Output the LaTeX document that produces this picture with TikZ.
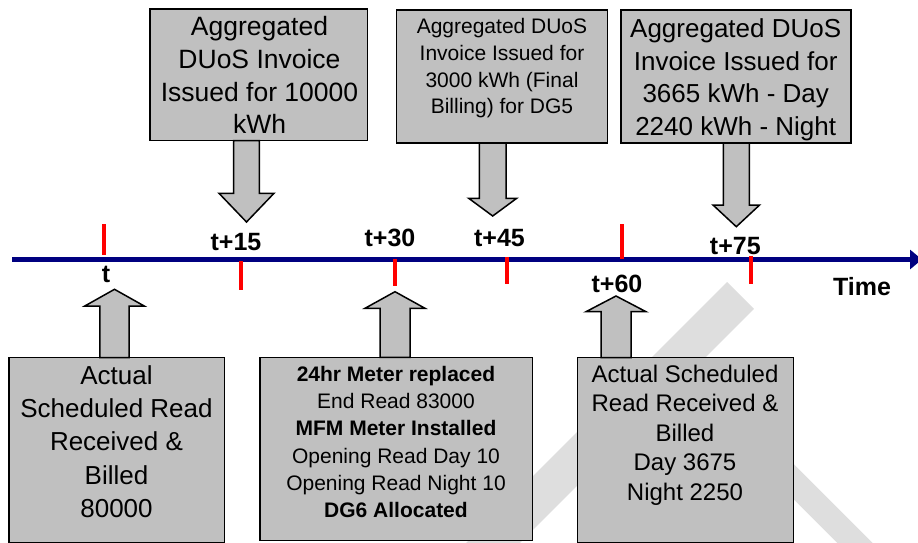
\documentclass[tikz,border=0pt]{standalone}
\usepackage{fontspec}
\setmainfont{Liberation Sans}
\usetikzlibrary{arrows.meta}

\definecolor{boxgrey}{RGB}{192,192,192}
\definecolor{axisblue}{RGB}{0,0,128}
\definecolor{tickred}{RGB}{255,0,0}
\definecolor{wmgrey}{RGB}{222,222,222}

% block arrow: x centre, start y, head base y, tip y, shaft half width, head half width
\newcommand\blkarr[6]{%
  \filldraw[blk] (#1-#5,#2) -- (#1-#5,#3) -- (#1-#6,#3) -- (#1,#4)
    -- (#1+#6,#3) -- (#1+#5,#3) -- (#1+#5,#2) -- cycle;}

\begin{document}
\begin{tikzpicture}[x=1pt,y=-1pt,
  box/.style={draw=black, line width=1.5pt, fill=boxgrey, inner sep=0pt},
  txt/.style={align=center, inner sep=0pt, anchor=north, text=black},
  lbl/.style={font=\fontsize{25}{30}\selectfont\bfseries, anchor=base, inner sep=0pt},
  tickmark/.style={draw=tickred, line width=4pt},
  blk/.style={draw=black, line width=1.5pt, fill=boxgrey, line join=miter},
  wm/.style={draw=wmgrey, line cap=butt},
  axis/.style={draw=axisblue, line width=4.5pt, -{Triangle[length=12pt,width=19pt]}},
]
\useasboundingbox (0,0) rectangle (918,543);
\fill[white] (0,0) rectangle (918,543);

% watermark strokes
\draw[wm, line width=38pt] (740.5,295.5) -- (440,596);
\draw[wm, line width=25pt] (700,388) -- (1000,688);

% time axis
\coordinate (axstart) at (12,259.5);
\coordinate (axend) at (922,259.5);
\draw[axis] (axstart) -- (axend);

% tick marks
\draw[tickmark] (104,224) -- (104,255);
\draw[tickmark] (241,261) -- (241,290);
\draw[tickmark] (394.7,259) -- (394.7,286);
\draw[tickmark] (506.5,257) -- (506.5,284);
\draw[tickmark] (622,224) -- (622,259);
\draw[tickmark] (750.7,256) -- (750.7,284);

% tick labels
\node[lbl] (lt)    at (106,282)   {t};
\node[lbl] (lt15)  at (236,250)   {t+15};
\node[lbl] (lt30)  at (390,246.7) {t+30};
\node[lbl] (lt45)  at (499.5,246.7) {t+45};
\node[lbl] (lt60)  at (617,292.7) {t+60};
\node[lbl] (lt75)  at (735.3,254) {t+75};
\node[lbl] (ltime) at (862,295)   {Time};

% invoice boxes above the axis
\node[box, minimum width=217.7pt, minimum height=131.7pt] (tb1) at (258.8,74.8) {};
\node[box, minimum width=211pt, minimum height=133pt] (tb2) at (502.2,76.5) {};
\node[box, minimum width=229.7pt, minimum height=133pt] (tb3) at (735.9,76.5) {};

\node[txt, font=\fontsize{26.5}{32.8}\selectfont] (tb1t) at (259.5,16)
  {Aggregated\\DUoS Invoice\\Issued for 10000\\kWh};
\node[txt, font=\fontsize{21}{26.7}\selectfont] (tb2t) at (502,18.3)
  {Aggregated DUoS\\Invoice Issued for\\3000 kWh (Final\\Billing) for DG5};
\node[txt, font=\fontsize{26}{32.8}\selectfont] (tb3t) at (735.7,18.3)
  {Aggregated DUoS\\Invoice Issued for\\3665 kWh - Day\\2240 kWh - Night};

% read boxes below the axis
\node[box, minimum width=215.3pt, minimum height=184.6pt] (bb1) at (116.7,450) {};
\node[box, minimum width=272.7pt, minimum height=183.4pt] (bb2) at (396.3,449) {};
\node[box, minimum width=215.6pt, minimum height=185pt] (bb3) at (685.5,450.2) {};

\node[txt, font=\fontsize{26}{33.3}\selectfont] (bb1t) at (116.5,365.3)
  {Actual\\Scheduled Read\\Received \&\\Billed\\80000};
\node[txt, font=\fontsize{21}{27.3}\selectfont] (bb2t) at (396,365.7)
  {\textbf{24hr Meter replaced}\\End Read 83000\\\textbf{MFM Meter Installed}\\Opening Read Day 10\\Opening Read Night 10\\\textbf{DG6 Allocated}};
\node[txt, font=\fontsize{24}{29.6}\selectfont] (bb3t) at (685,364.5)
  {Actual Scheduled\\Read Received \&\\Billed\\Day 3675\\Night 2250};

% block arrows
\blkarr{246.5}{140.7}{193.3}{222}{12.8}{27.5}
\blkarr{492.7}{143}{198.3}{216}{13.3}{24}
\blkarr{736.3}{143}{205}{226.7}{13}{23.3}
\blkarr{114.5}{357.7}{306}{289.3}{14.7}{29.7}
\blkarr{395}{357.3}{308.3}{291.7}{15}{30}
\blkarr{616}{357.7}{311.7}{296}{15}{30}
\end{tikzpicture}
\end{document}
